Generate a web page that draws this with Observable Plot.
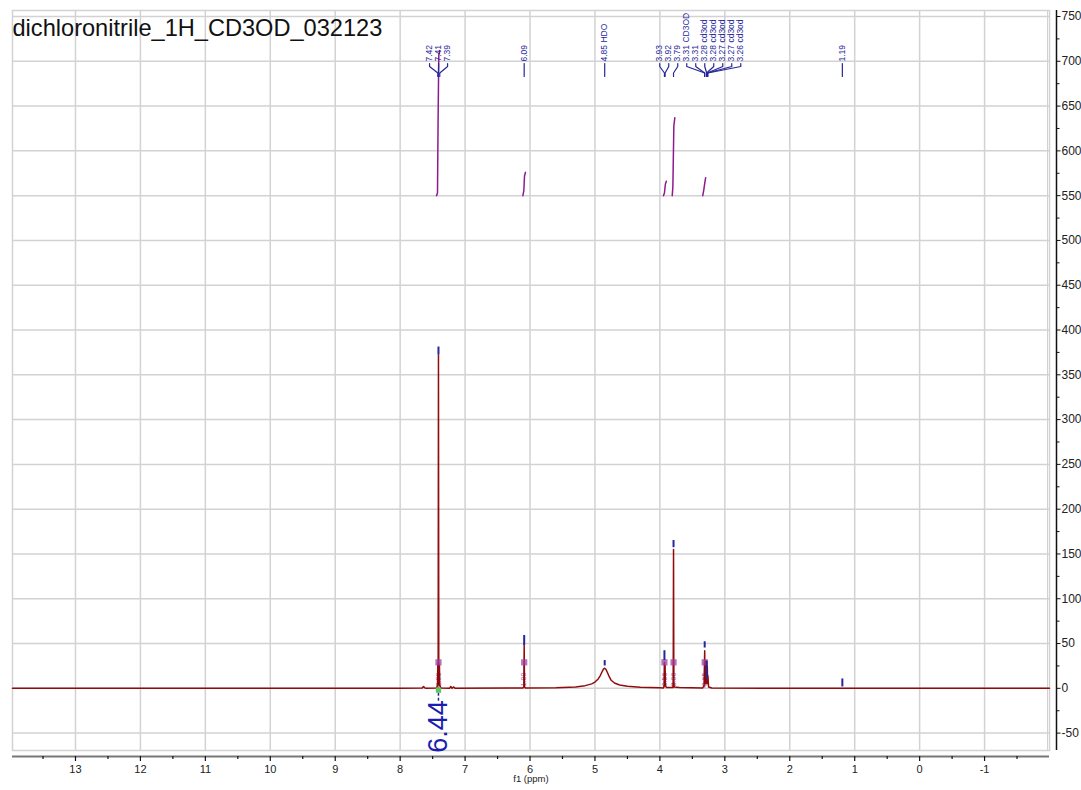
<!DOCTYPE html>
<html><head><meta charset="utf-8">
<script src="https://cdn.jsdelivr.net/npm/d3@7"></script>
<script src="https://cdn.jsdelivr.net/npm/@observablehq/plot@0.6"></script>
<style>html,body{margin:0;padding:0;background:#fff;} #chart svg{display:block}</style>
</head><body><div id="chart"></div>
<script>
const title = "dichloronitrile_1H_CD3OD_032123";
const xLabel = "f1 (ppm)";
const xTicks = [13, 12, 11, 10, 9, 8, 7, 6, 5, 4, 3, 2, 1, 0, -1];
const xMinor = [13.5, 12.5, 11.5, 10.5, 9.5, 8.5, 7.5, 6.5, 5.5, 4.5, 3.5, 2.5, 1.5, 0.5, -0.5, -1.5];
const yTicks = [-50, 0, 50, 100, 150, 200, 250, 300, 350, 400, 450, 500, 550, 600, 650, 700, 750];
const yMinor = [-25, 25, 75, 125, 175, 225, 275, 325, 375, 425, 475, 525, 575, 625, 675, 725];

// spectrum trace (ppm, intensity)
const specPpm = [13.97, 8.0, 7.66, 7.64, 7.62, 7.60,
  7.44, 7.425, 7.42, 7.415, 7.41, 7.405, 7.395, 7.39, 7.37,
  7.24, 7.22, 7.20, 7.18, 7.15,
  6.11, 6.095, 6.09, 6.085, 6.07,
  5.6, 5.3, 5.15, 5.05, 5.0, 4.95, 4.92, 4.89, 4.87, 4.85, 4.83, 4.81, 4.78, 4.75, 4.7, 4.62, 4.5, 4.3, 4.0,
  3.945, 3.935, 3.93, 3.925, 3.92, 3.915, 3.90,
  3.80, 3.795, 3.79, 3.785, 3.78, 3.70,
  3.34, 3.32, 3.31, 3.305, 3.30, 3.295, 3.285, 3.28, 3.275, 3.27, 3.265, 3.26, 3.25, 3.20,
  1.5, -2.0];
const specInt = [0, 0, 0.5, 2, 0.5, 0,
  0.5, 3, 28, 4, 372, 4, 26, 3, 0.3,
  0, 2, 0, 1.5, 0,
  0.3, 2, 50, 2, 0.3,
  0.6, 1.5, 3, 5, 7, 10.5, 14, 18.5, 21.5, 22.5, 21, 18, 13, 9, 6, 3.8, 2.3, 1.2, 0.6,
  0.5, 3, 29, 3, 26, 3, 1,
  1, 8, 155, 8, 1.5, 1,
  0.5, 3, 42, 6, 30, 5, 6, 31, 8, 25, 5, 14, 1.5, 0.3,
  0, 0];

// peak picks (blue bars above peaks)
const pickPpm  = [7.41, 6.09, 4.85, 3.93, 3.79, 3.31, 3.28, 1.19];
const pickLow  = [372, 48, 25, 31, 157, 45, 10, 1.5];
const pickHigh = [381, 59, 31, 42, 165, 52, 30, 10.5];

// peak labels at the top
const peakLabel = ["7.42", "7.41", "7.39", "6.09", "4.85 HDO", "3.93", "3.92", "3.79",
  "3.31 CD3OD", "3.31", "3.28 cd3od", "3.28 cd3od", "3.27 cd3od", "3.27 cd3od", "3.26 cd3od", "1.19"];
const peakPpm = [7.42, 7.41, 7.39, 6.09, 4.85, 3.93, 3.92, 3.79, 3.31, 3.31, 3.28, 3.28, 3.27, 3.27, 3.26, 1.19];
const peakGroup = [0, 0, 0, 1, 2, 3, 3, 3, 3, 3, 3, 3, 3, 3, 3, 4];

// integral curves
const integralPpm = [
  [7.44, 7.425, 7.415, 7.405, 7.39],
  [6.11, 6.095, 6.085, 6.07],
  [3.945, 3.93, 3.915, 3.90],
  [3.81, 3.80, 3.785, 3.77],
  [3.34, 3.325, 3.305, 3.295]];
const integralVal = [
  [550, 553, 640, 707, 712],
  [550, 556, 572, 576],
  [550, 553, 563, 566],
  [550, 560, 628, 637],
  [550, 556, 566, 570]];
const integralPpmMark = [7.41, 6.09, 3.93, 3.79, 3.31];
const integralText = ["2.98", "1.00", "0.56", "3.06", "0.65"];
const multipletPpm = 7.41;
const multipletText = "6.44";

// ---- layout ----
const W = 1081, H = 790;
const mT = 10, mB = 40, mL = 12, mR = 32;
const xDom = [13.97, -2.0], yDom = [-69.4, 756.7];
const kx = (W - mL - mR) / (xDom[0] - xDom[1]);
const ky = (H - mT - mB) / (yDom[1] - yDom[0]);
const ppmAt = px => xDom[0] - (px - mL) / kx;
const valAt = py => yDom[1] - (py - mT) / ky;

const spectrum = specPpm.map((x, i) => ({x, y: specInt[i]}));
const picks = pickPpm.map((x, i) => ({x, y1: pickLow[i], y2: pickHigh[i]}));
const integrals = integralPpm.flatMap((arr, k) => arr.map((x, i) => ({x, y: integralVal[k][i], k})));

// spread labels of a group 9px apart, centred on the group's span of peaks weighted to the right
const spacing = 9 / kx;
const groups = d3.group(peakPpm.map((p, i) => ({p, i, g: peakGroup[i]})), d => d.g);
const labelX = new Array(peakPpm.length);
for (const [, members] of groups) {
  const c = (d3.mean(members, d => d.p) + d3.median(members, d => d.p)) / 2;
  const n = members.length;
  members.forEach((m, j) => { labelX[m.i] = c + ((n - 1) / 2 - j) * spacing; });
}
const labels = peakLabel.map((t, i) => ({t, lx: labelX[i], px: peakPpm[i]}));
const connectors = labels.flatMap((d, k) => [
  {x: d.lx, y: valAt(63), k}, {x: d.lx, y: valAt(66), k},
  {x: d.px, y: valAt(72.5), k}, {x: d.px, y: valAt(76), k}]);

const grid = "#d2d2d2";
const blue = "#27279a";
const purple = "#8e1a8e";

const chart = Plot.plot({
  width: W, height: H,
  marginTop: mT, marginBottom: mB, marginLeft: mL, marginRight: mR,
  x: {domain: xDom, axis: null},
  y: {domain: yDom, axis: null},
  style: {fontFamily: "'Liberation Sans', Arial, Helvetica, sans-serif", background: "#fff"},
  marks: [
    Plot.ruleX(xTicks, {stroke: grid, strokeWidth: 1.5}),
    Plot.ruleY(yTicks, {stroke: grid, strokeWidth: 1.5}),
    Plot.frame({stroke: grid, strokeWidth: 1.5}),
    Plot.ruleX([ppmAt(1047)], {stroke: grid, strokeWidth: 1}),
    // title
    Plot.text([title], {frameAnchor: "top-left", dy: 17.5, dx: 0, textAnchor: "start", lineAnchor: "middle", fontSize: 23.6, fill: "#111"}),
    // integrals
    Plot.line(integrals, {x: "x", y: "y", z: "k", stroke: purple, strokeWidth: 1.5}),
    // integral markers near baseline
    Plot.ruleX(integralPpmMark, {y1: 0, y2: 29, stroke: "#b070b0", strokeWidth: 1.5, strokeOpacity: 0.8}),
    Plot.text(integralPpmMark, {x: d => d, y: valAt(679), text: (d, i) => integralText[i], rotate: -90, fontSize: 7, fill: "#b060b0"}),
    // spectrum
    Plot.line(spectrum, {x: "x", y: "y", stroke: "#8b0000", strokeWidth: 1.5, strokeOpacity: 0.95}),
    Plot.dot(integralPpmMark, {x: d => d, y: 29, symbol: "square", r: 3.5, fill: "#a040a0", fillOpacity: 0.75}),
    // multiplet label
    Plot.ruleX([multipletPpm], {y1: 0, y2: valAt(701), stroke: blue, strokeWidth: 1.5, strokeDasharray: "3,2"}),
    Plot.dot([multipletPpm], {x: d => d, y: -2, symbol: "square", r: 3, fill: "#5cc75c"}),
    Plot.text([multipletText], {x: multipletPpm, y: valAt(726), rotate: -90, fontSize: 27, fill: "#1c1cb0"}),
    // peak picks
    Plot.ruleX(picks, {x: "x", y1: "y1", y2: "y2", stroke: blue, strokeWidth: 2}),
    // peak labels + connectors
    Plot.line(connectors, {x: "x", y: "y", z: "k", stroke: blue, strokeWidth: 1.2}),
    Plot.text(labels, {x: "lx", y: valAt(61), text: "t", rotate: -90, textAnchor: "start", lineAnchor: "middle", fontSize: 8.5, fill: blue}),
    // right y axis
    Plot.ruleX([ppmAt(1056)], {y1: yDom[0], y2: yDom[1], stroke: "#111", strokeWidth: 1.5}),
    Plot.ruleY(yTicks, {x1: ppmAt(1056), x2: ppmAt(1060.5), stroke: "#111", strokeWidth: 1}),
    Plot.ruleY(yMinor, {x1: ppmAt(1056), x2: ppmAt(1059.5), stroke: "#111", strokeWidth: 1}),
    Plot.text(yTicks, {x: ppmAt(1061), y: d => d, text: d => String(d), textAnchor: "start", fontSize: 12, fill: "#222"}),
    // bottom x axis
    Plot.ruleY([valAt(756)], {stroke: "#777", strokeWidth: 2}),
    Plot.ruleX(xTicks, {y1: valAt(756), y2: valAt(761), stroke: "#111", strokeWidth: 1.2}),
    Plot.ruleX(xMinor, {y1: valAt(756), y2: valAt(759), stroke: "#111", strokeWidth: 1.2}),
    Plot.text(xTicks, {x: d => d, y: valAt(768.5), text: d => String(d), fontSize: 11, fill: "#222"}),
    Plot.text([xLabel], {frameAnchor: "bottom", dy: 31.5, fontSize: 9.5, fill: "#222"})
  ]
});
document.getElementById("chart").append(chart);
</script>
</body></html>
